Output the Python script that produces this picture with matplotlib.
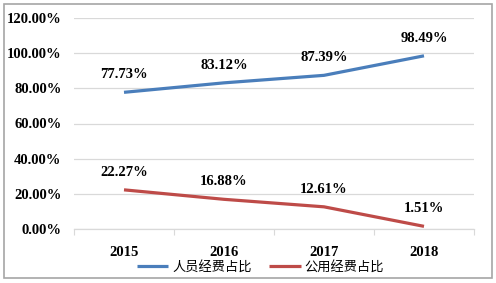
import matplotlib
matplotlib.use("Agg")
import matplotlib.pyplot as plt
from matplotlib.patches import Rectangle

years = ["2015", "2016", "2017", "2018"]
personnel = [77.73, 83.12, 87.39, 98.49]
public = [22.27, 16.88, 12.61, 1.51]
yticks = [0, 20, 40, 60, 80, 100, 120]
series_names = ["人员经费占比", "公用经费占比"]

W, H = 496, 283
fig = plt.figure(figsize=(W / 100, H / 100), dpi=100)
ax = fig.add_axes([74 / W, 1 - 229 / H, 400 / W, 211 / H])

num_font = dict(family="Liberation Serif", weight="bold", size=10.5)
x = range(len(years))
colors = ["#4A7EBB", "#BE4B48"]
l1, = ax.plot(x, personnel, color=colors[0], lw=2.3, solid_capstyle="butt")
l2, = ax.plot(x, public, color=colors[1], lw=2.3, solid_capstyle="butt")

for vals in (personnel, public):
    for i, v in enumerate(vals):
        ax.annotate(f"{v:.2f}%", (i, v), xytext=(0, 12.5), textcoords="offset points",
                    ha="center", va="center", **num_font)

ax.set_xlim(-0.5, len(years) - 0.5)
ax.set_ylim(0, 120)
ax.set_yticks(yticks)
ax.set_yticklabels([f"{v:.2f}%" for v in yticks], **num_font)
ax.set_xticks(list(x))
ax.set_xticklabels(years, **num_font)
ax.tick_params(axis="y", length=0, pad=9)
ax.tick_params(axis="x", length=0, pad=12)
ax.set_xticks([i - 0.5 for i in range(len(years) + 1)], minor=True)
ax.tick_params(axis="x", which="minor", length=4, color="#D9D9D9", width=0.8)
ax.grid(axis="y", color="#D9D9D9", lw=0.9)
ax.set_axisbelow(True)
for s in ("top", "right", "left"):
    ax.spines[s].set_visible(False)
ax.spines["bottom"].set_color("#D9D9D9")
ax.spines["bottom"].set_linewidth(0.9)

leg = fig.legend([l1, l2], series_names, loc="center", bbox_to_anchor=(0.525, 1 - 267 / H),
                 ncol=2, frameon=False, handlelength=2.4, columnspacing=1.3, handletextpad=0.3,
                 prop=dict(family=["Noto Sans CJK SC", "DejaVu Sans"], size=9.5))

fig.patches.append(Rectangle((4 / W, 5 / H), 488 / W, 274 / H, transform=fig.transFigure,
                             fill=False, edgecolor="#A6A6A6", lw=1.2))
fig.savefig("out.png", dpi=100)
